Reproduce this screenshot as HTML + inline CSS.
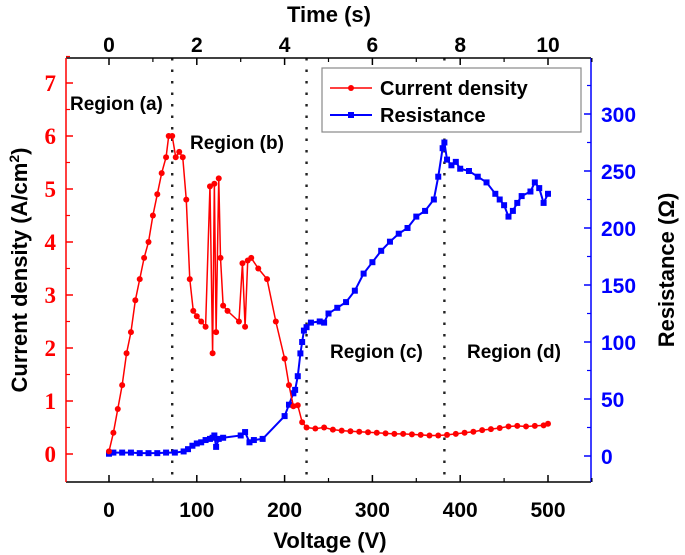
<!DOCTYPE html>
<html><head><meta charset="utf-8"><style>
html,body{margin:0;padding:0;background:#fff;}
svg{display:block;font-family:"Liberation Sans",Arial,sans-serif;font-weight:bold;}
</style></head><body>
<svg id="chart" width="685" height="555" viewBox="0 0 685 555" xmlns="http://www.w3.org/2000/svg">
<g id="layer"></g>
</svg>
<script>
const cdV = [0,5,10,15,20,25,30,35,40,45,50,55,60,65,68,72,76,80,84,88,92,96,100,105,110,115,118,120,122,125,127,130,135,148,152,155,158,162,170,180,190,200,205,210,215,220,225,235,245,255,265,275,285,295,305,315,325,335,345,355,365,375,385,395,405,415,425,435,445,455,465,475,485,495,500];
const cdVal = [0.05,0.4,0.85,1.3,1.9,2.3,2.9,3.3,3.7,4.0,4.5,4.9,5.3,5.6,6.0,6.0,5.6,5.7,5.6,4.8,3.3,2.7,2.6,2.5,2.4,5.05,1.9,5.1,2.3,5.2,3.7,2.8,2.7,2.5,3.6,2.4,3.65,3.7,3.5,3.3,2.5,1.8,1.3,0.9,0.92,0.6,0.5,0.48,0.5,0.46,0.44,0.43,0.42,0.41,0.4,0.39,0.38,0.38,0.37,0.36,0.35,0.35,0.36,0.38,0.4,0.42,0.45,0.47,0.49,0.52,0.53,0.52,0.53,0.54,0.57];
const resV = [0,5,15,25,35,45,55,65,75,85,90,95,100,105,110,115,118,120,122,125,130,150,155,160,165,175,200,205,210,212,215,218,220,222,225,230,240,245,250,260,270,280,290,300,310,320,330,340,350,360,370,375,380,382,385,390,395,400,410,420,430,440,445,450,455,460,465,470,480,485,490,495,500];
const resVal = [2,3,3,3,2.5,2.5,2.5,3,3,4,6,9,11,12,14,15,16,18,8,15,16,18,21,12,14,15,35,45,55,58,70,90,100,110,113,117,118,117,125,130,135,145,160,170,180,188,195,200,210,215,225,245,270,275,260,255,258,252,250,245,240,230,225,220,210,215,222,228,232,240,235,222,230];
const vTicks = [0,100,200,300,400,500];
const tTicks = [0,2,4,6,8,10];
const cdTicks = [0,1,2,3,4,5,6,7];
const resTicks = [0,50,100,150,200,250,300];
const regionLines = [72,225,382];

const X0=66,X1=591,Y0=58,Y1=482;
const xV = v => 109 + v*0.878;
const xT = t => xV(t*50);
const yC = c => 454 - c*53;
const yR = r => 456 - r*1.14;
const NS="http://www.w3.org/2000/svg";
const L=document.getElementById('layer');
function mk(tag,attrs,text){const e=document.createElementNS(NS,tag);for(const k in attrs)e.setAttribute(k,attrs[k]);if(text!==undefined)e.textContent=text;L.appendChild(e);return e;}

regionLines.forEach(v=>{
 const e=mk('line',{x1:xV(v),x2:xV(v),y1:Y0,y2:Y1,stroke:'#222','stroke-width':2.4,'stroke-dasharray':'2.5 9'});
 
 
});

let e;
e=mk('line',{x1:X0,x2:X1,y1:Y1,y2:Y1,stroke:'#000','stroke-width':1.5});

e=mk('line',{x1:X0,x2:X1,y1:Y0,y2:Y0,stroke:'#000','stroke-width':1.5});

e=mk('line',{x1:X0,x2:X0,y1:Y0,y2:Y1,stroke:'#f00','stroke-width':1.5});

e=mk('line',{x1:X1,x2:X1,y1:Y0,y2:Y1,stroke:'#00f','stroke-width':1.5});


vTicks.forEach(v=>{
 mk('line',{x1:xV(v),x2:xV(v),y1:Y1,y2:Y1-7,stroke:'#000','stroke-width':1.5});
 mk('line',{x1:xV(v+50),x2:xV(v+50),y1:Y1,y2:Y1-4,stroke:'#000','stroke-width':1.2});
 e=mk('text',{x:xV(v),y:517,'text-anchor':'middle','font-size':21,fill:'#000'},v);
 
});
tTicks.forEach(t=>{
 mk('line',{x1:xT(t),x2:xT(t),y1:Y0,y2:Y0+7,stroke:'#000','stroke-width':1.5});
 mk('line',{x1:xT(t+1),x2:xT(t+1),y1:Y0,y2:Y0+4,stroke:'#000','stroke-width':1.2});
 e=mk('text',{x:xT(t),y:52,'text-anchor':'middle','font-size':21,fill:'#000'},t);
 
});
cdTicks.forEach(c=>{
 mk('line',{x1:X0,x2:X0+7,y1:yC(c),y2:yC(c),stroke:'#f00','stroke-width':1.5});
 mk('line',{x1:X0,x2:X0+4,y1:yC(c+0.5),y2:yC(c+0.5),stroke:'#f00','stroke-width':1.2});
 e=mk('text',{x:56,y:yC(c)+8,'text-anchor':'end','font-size':23,fill:'#f00','font-family':'"Liberation Serif",serif'},c);
 
});
resTicks.forEach(r=>{
 mk('line',{x1:X1,x2:X1-7,y1:yR(r),y2:yR(r),stroke:'#00f','stroke-width':1.5});
 mk('line',{x1:X1,x2:X1-4,y1:yR(r+25),y2:yR(r+25),stroke:'#00f','stroke-width':1.2});
 e=mk('text',{x:601,y:yR(r)+8,'text-anchor':'start','font-size':21,fill:'#00f'},r);
 
});

e=mk('text',{x:330,y:548,'text-anchor':'middle','font-size':22,fill:'#000'},'Voltage (V)');

e=mk('text',{x:329,y:22,'text-anchor':'middle','font-size':22,fill:'#000'},'Time (s)');

e=mk('text',{x:0,y:0,'text-anchor':'middle','font-size':22,fill:'#000',transform:'translate(27,270) rotate(-90)'});
e.innerHTML='Current density (A/cm<tspan dy="-8" font-size="14">2</tspan><tspan dy="8">)</tspan>';

e=mk('text',{x:0,y:0,'text-anchor':'middle','font-size':22,fill:'#000',transform:'translate(674,270) rotate(-90)'},'Resistance (Ω)');


[['Region (a)',70,110],['Region (b)',190,149],['Region (c)',330,358],['Region (d)',467,358]].forEach(r=>{
 e=mk('text',{x:r[1],y:r[2],'font-size':19,fill:'#000'},r[0]);
 
});

e=mk('polyline',{points:resV.map((v,i)=>xV(v)+','+yR(resVal[i])).join(' '),fill:'none',stroke:'#00f','stroke-width':2});

resV.forEach((v,i)=>{
 const m=mk('rect',{x:xV(v)-3,y:yR(resVal[i])-3,width:6,height:6,fill:'#00f'});
 
 
});
e=mk('polyline',{points:cdV.map((v,i)=>xV(v)+','+yC(cdVal[i])).join(' '),fill:'none',stroke:'#f00','stroke-width':1.5});

cdV.forEach((v,i)=>{
 const m=mk('circle',{cx:xV(v),cy:yC(cdVal[i]),r:3,fill:'#f00'});
 
 
});

e=mk('rect',{x:322,y:68,width:259,height:64,fill:'#fff',stroke:'#888','stroke-width':1.2});

mk('line',{x1:330,x2:372,y1:88,y2:88,stroke:'#f00','stroke-width':1.5});
mk('circle',{cx:351,cy:88,r:3,fill:'#f00'});
e=mk('text',{x:380,y:95,'font-size':20,fill:'#000'},'Current density');

mk('line',{x1:330,x2:372,y1:115,y2:115,stroke:'#00f','stroke-width':2});
mk('rect',{x:348,y:112,width:6,height:6,fill:'#00f'});
e=mk('text',{x:380,y:122,'font-size':20,fill:'#000'},'Resistance');

</script>
</body></html>
